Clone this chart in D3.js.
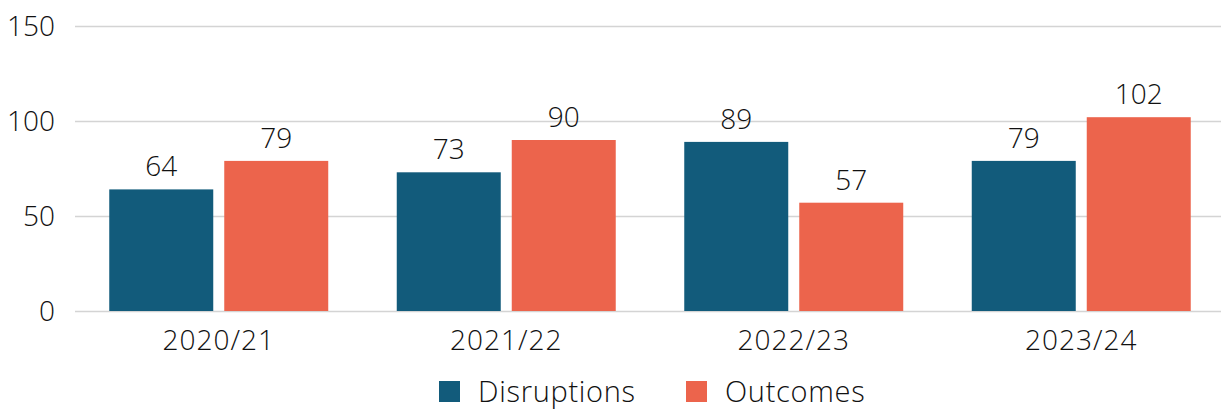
<!DOCTYPE html>
<html>
<head>
<meta charset="utf-8">
<script src="https://cdn.jsdelivr.net/npm/d3@7"></script>
<style>
  body { margin: 0; background: #fff; }
  text { font-family: "Open Sans", sans-serif; font-weight: 350; fill: #111; }
</style>
</head>
<body>
<script>
const years = ['2020/21', '2021/22', '2022/23', '2023/24']
const series = ['Disruptions', 'Outcomes']
const disruptions = [64, 73, 89, 79]
const outcomes = [79, 90, 57, 102]
const y_ticks = [0, 50, 100, 150]
const colors = ['#125b7b', '#ec644c']

const width = 1221, height = 410
const font_size = 28

const rows = years.map((y, i) => ({ year: y, values: [disruptions[i], outcomes[i]] }))

const x0 = d3.scaleBand().domain(years).range([75, 1225]).paddingInner(0.2383).paddingOuter(0.2383 / 2)
const x1 = d3.scaleBand().domain(series).range([0, x0.bandwidth()]).paddingInner(11 / 115)
const y = d3.scaleLinear().domain([0, 150]).range([311, 26])
const color = d3.scaleOrdinal().domain(series).range(colors)

const svg = d3.select('body').append('svg')
  .attr('width', width)
  .attr('height', height)

// grid lines
svg.selectAll('line.grid')
  .data(y_ticks)
  .enter()
  .append('line')
  .attr('class', 'grid')
  .attr('x1', 75)
  .attr('x2', width)
  .attr('y1', d => Math.round(y(d)) + 0.5)
  .attr('y2', d => Math.round(y(d)) + 0.5)
  .attr('stroke', '#d4d4d4')
  .attr('stroke-width', 1.5)

svg.selectAll('text.ytick')
  .data(y_ticks)
  .enter()
  .append('text')
  .attr('class', 'ytick')
  .attr('x', 55)
  .attr('y', d => y(d))
  .attr('dy', '0.35em')
  .attr('text-anchor', 'end')
  .attr('font-size', font_size)
  .text(d => d)

const groups = svg.selectAll('g.year')
  .data(rows)
  .enter()
  .append('g')
  .attr('class', 'year')
  .attr('transform', d => `translate(${x0(d.year)},0)`)

groups.selectAll('rect')
  .data(d => d.values.map((v, i) => ({ key: series[i], value: v })))
  .enter()
  .append('rect')
  .attr('x', d => x1(d.key))
  .attr('width', x1.bandwidth())
  .attr('y', d => y(d.value))
  .attr('height', d => y(0) - y(d.value))
  .attr('fill', d => color(d.key))

groups.selectAll('text.value')
  .data(d => d.values.map((v, i) => ({ key: series[i], value: v })))
  .enter()
  .append('text')
  .attr('class', 'value')
  .attr('x', d => x1(d.key) + x1.bandwidth() / 2)
  .attr('y', d => y(d.value) - 13)
  .attr('text-anchor', 'middle')
  .attr('font-size', font_size)
  .text(d => d.value)

svg.selectAll('text.xtick')
  .data(years)
  .enter()
  .append('text')
  .attr('class', 'xtick')
  .attr('x', d => x0(d) + x0.bandwidth() / 2)
  .attr('y', 350)
  .attr('text-anchor', 'middle')
  .attr('font-size', font_size)
  .attr('letter-spacing', 1)
  .text(d => d)

// legend
const legend_x = [439, 686]
const legend = svg.selectAll('g.legend')
  .data(series)
  .enter()
  .append('g')
  .attr('class', 'legend')
  .attr('transform', (d, i) => `translate(${legend_x[i]},381)`)

legend.append('rect')
  .attr('width', 21)
  .attr('height', 21)
  .attr('fill', d => color(d))

legend.append('text')
  .attr('x', 39)
  .attr('y', 21)
  .attr('font-size', 29)
  .attr('letter-spacing', 0.7)
  .text(d => d)
</script>
</body>
</html>
